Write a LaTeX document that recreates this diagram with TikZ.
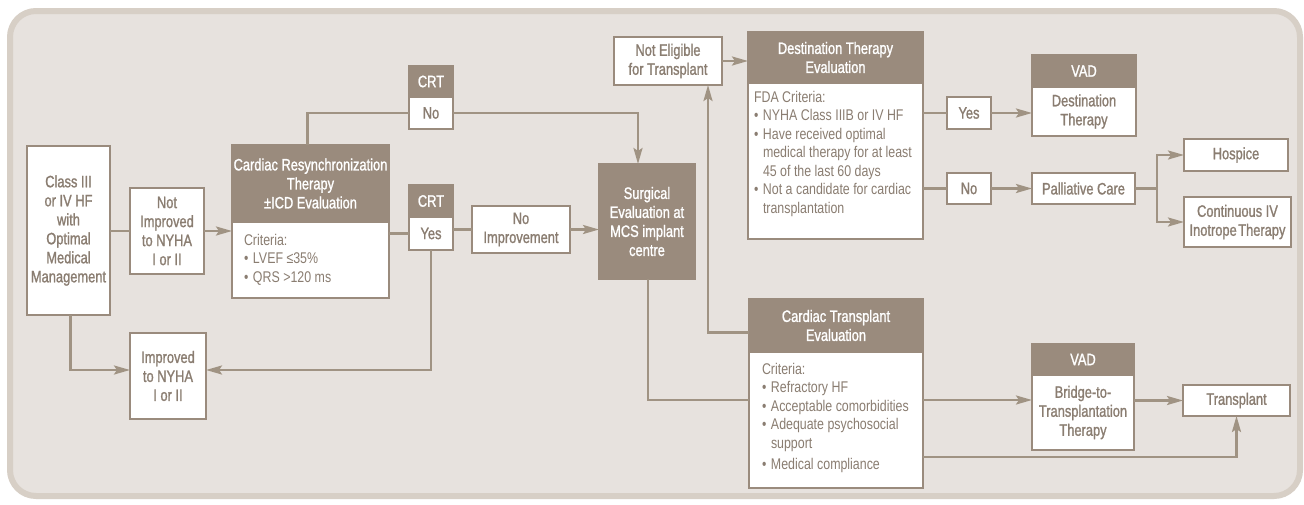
\documentclass[tikz,border=0pt]{standalone}
\usepackage{fontspec}
\setmainfont{Liberation Sans}[FakeStretch=0.8]
\newfontfamily\lblfam{Liberation Sans}[FakeStretch=0.78, FakeBold=1.2]
\usetikzlibrary{arrows.meta,calc}
\definecolor{hdrc}{HTML}{9A8B7D}
\definecolor{lnc}{HTML}{A09383}
\definecolor{txtc}{HTML}{8A7D71}
\definecolor{fbg}{HTML}{E7E2DE}
\definecolor{fbd}{HTML}{D7CFC6}
\newcommand\lblf{\lblfam\fontsize{16.5}{19}\selectfont}
\newcommand\critf{\fontsize{15.5}{18.5}\selectfont}
\newcommand\bul{\makebox[9pt][l]{•}}
\newcommand\bx[7]{\pgfmathsetmacro\bw{#4-#2}\pgfmathsetmacro\bh{#5-#3}%
  \node[#6, minimum width=\bw pt, minimum height=\bh pt] (#1) at ({(#2+#4)/2},{(#3+#5)/2}) {#7};}
\tikzset{
  wbox/.style={draw=hdrc, line width=2.5pt, fill=white, text=txtc, align=center, inner sep=0pt, outer sep=0pt, font=\lblf},
  hbox/.style={draw=hdrc, line width=2.5pt, fill=hdrc, text=white, align=center, inner sep=0pt, outer sep=0pt, font=\lblf},
  crit/.style={text=txtc, align=left, inner sep=0pt, outer sep=0pt, font=\critf},
  conn/.style={draw=lnc, line width=2.5pt},
  arr/.style={conn, -{Stealth[length=16pt,width=9pt,inset=3pt]}},
}
\begin{document}
\begin{tikzpicture}[x=1pt,y=-1pt]
\useasboundingbox (0,0) rectangle (1304,504);
\fill[white] (0,0) rectangle (1304,504);
\draw[line width=6pt, draw=fbd, fill=fbg, rounded corners=26pt] (10,11) rectangle (1300,496);

% left part
\bx{cls}{27}{146}{110}{315}{wbox}{Class III\\or IV HF\\with\\Optimal\\Medical\\Management}
\bx{notimp}{130}{188}{204}{274}{wbox}{Not\\Improved\\to NYHA\\I or II}
\bx{crth}{232}{145}{389}{222}{hbox}{Cardiac Resynchronization\\Therapy\\±ICD Evaluation}
\bx{crtb}{232}{222}{389}{298}{wbox}{}
\node[crit, anchor=north west] (crtbt) at ($(crtb.north west)+(12,12)$) {Criteria:\\\bul LVEF ≤35\%\\\bul QRS >120 ms};
\bx{crt1h}{409}{66}{453}{97}{hbox}{CRT}
\bx{crt1b}{409}{97}{453}{129}{wbox}{No}
\bx{crt2h}{409}{185}{453}{217}{hbox}{CRT}
\bx{crt2b}{409}{217}{453}{250}{wbox}{Yes}
\bx{noimp}{472}{206}{570}{253}{wbox}{No\\Improvement}
\bx{impr}{130}{333}{206}{419}{wbox}{Improved\\to NYHA\\I or II}
\bx{surg}{599}{164}{695}{279}{hbox}{Surgical\\Evaluation at\\MCS implant\\centre}

% upper right
\bx{notel}{614}{37}{722}{85}{wbox}{Not Eligible\\for Transplant}
\bx{dth}{748}{32}{923}{83}{hbox}{Destination Therapy\\Evaluation}
\bx{dtb}{748}{83}{923}{239}{wbox}{}
\node[crit, anchor=north west] (dtbt) at ($(dtb.north west)+(6,8)$) {FDA Criteria:\\\bul NYHA Class IIIB or IV HF\\\bul Have received optimal\\\hspace*{9pt}medical therapy for at least\\\hspace*{9pt}45 of the last 60 days\\\bul Not a candidate for cardiac\\\hspace*{9pt}transplantation};
\bx{yes2}{947}{97}{991}{129}{wbox}{Yes}
\bx{vad1h}{1032}{55}{1136}{87}{hbox}{VAD}
\bx{vad1b}{1032}{87}{1136}{136}{wbox}{Destination\\Therapy}
\bx{no2}{947}{173}{991}{204}{wbox}{No}
\bx{pall}{1032}{173}{1135}{204}{wbox}{Palliative Care}
\bx{hosp}{1184}{139}{1288}{171}{wbox}{Hospice}
\bx{cont}{1184}{197}{1291}{247}{wbox}{Continuous IV\\Inotrope\hspace{1.5pt}Therapy}

% lower right
\bx{ctxh}{749}{299}{923}{352}{hbox}{Cardiac Transplant\\Evaluation}
\bx{ctxb}{749}{352}{923}{488}{wbox}{}
\node[crit, anchor=north west] (ctxbt) at ($(ctxb.north west)+(13,11)$) {Criteria:\\\bul Refractory HF\\\bul Acceptable comorbidities\\\bul Adequate psychosocial\\\hspace*{9pt}support\\[3pt]\bul Medical compliance};
\bx{vad2h}{1032}{344}{1134}{375}{hbox}{VAD}
\bx{vad2b}{1032}{375}{1134}{450}{wbox}{Bridge-to-\\Transplantation\\Therapy}
\bx{trans}{1183}{385}{1290}{416}{wbox}{Transplant}

% connectors
\draw[conn] (cls.east |- notimp.west) -- (notimp.west);
\draw[arr] (notimp.east) -- (notimp.east -| crtb.west);
\draw[conn] (crtb.east |- crt2b.west) -- (crt2b.west);
\draw[conn] ($(crth.north)+(-3,0)$) |- (crt1b.west);
\coordinate (sn) at ($(surg.north)+(-9,0)$);
\draw[arr] (crt1b.east) -| (sn);
\draw[conn] (noimp.west -| crt2b.east) -- (noimp.west);
\draw[arr] (noimp.east) -- (noimp.east -| surg.west);
\coordinate (ie) at ($(impr.east)+(0,-6)$);
\coordinate (iw) at ($(impr.west)+(0,-6)$);
\draw[arr] (crt2b.south) |- (ie);
\draw[arr] ($(cls.south)+(2,0)$) |- (iw);
\coordinate (cw) at ($(ctxb.north west)+(0,48)$);
\draw[conn] ($(surg.south)+(1,0)$) |- (cw);
\coordinate (ch) at ($(ctxh.west)+(0,7)$);
\coordinate (ns) at ($(notel.south)+(40,0)$);
\draw[arr] (ch) -| (ns);
\draw[arr] (notel.east) -- (notel.east -| dth.west);
\draw[conn] (yes2.west -| dtb.east) -- (yes2.west);
\draw[arr] (yes2.east) -- (yes2.east -| vad1b.west);
\draw[conn] (no2.west -| dtb.east) -- (no2.west);
\draw[arr] (no2.east) -- (pall.west);
\coordinate (pj) at ($(pall.east)+(22,0)$);
\draw[conn] (pall.east) -- (pj);
\draw[arr] (pj) |- (hosp.west);
\draw[arr] (pj) |- (cont.west);
\coordinate (c1) at ($(ctxb.north east)+(0,48)$);
\draw[arr] (c1) -- (c1 -| vad2b.west);
\draw[arr] (trans.west -| vad2b.east) -- (trans.west);
\coordinate (c2) at ($(ctxb.north east)+(0,105)$);
\draw[arr] (c2) -| (trans.south);
\end{tikzpicture}
\end{document}
